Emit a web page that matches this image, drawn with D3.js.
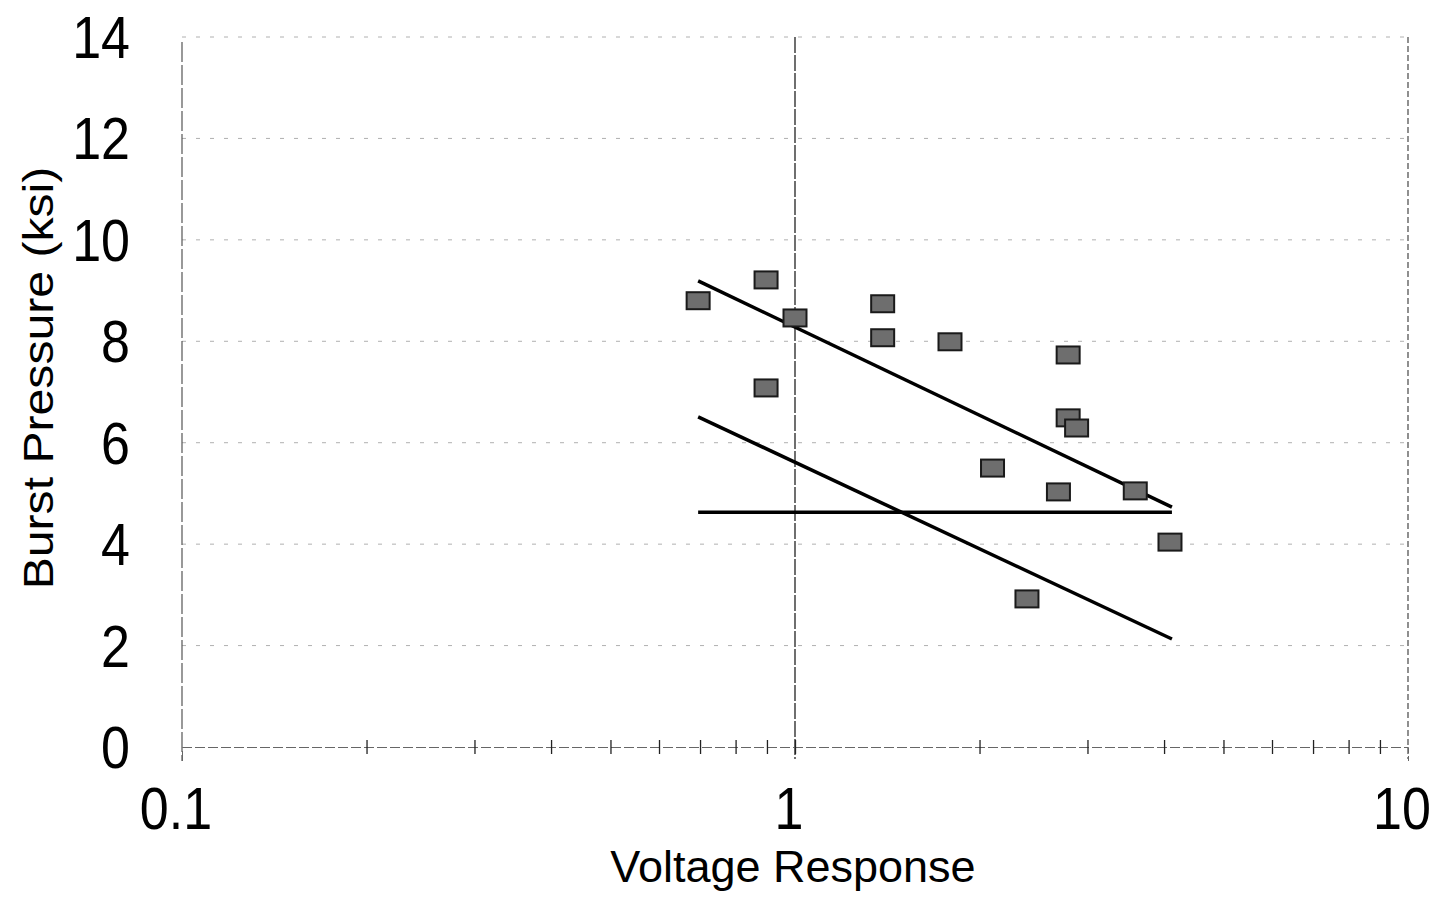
<!DOCTYPE html>
<html>
<head>
<meta charset="utf-8">
<script src="https://cdn.jsdelivr.net/npm/d3@7"></script>
<style>
  body { margin: 0; background: #fff; }
  text { font-family: "Liberation Sans", Arial, sans-serif; fill: #000; }
</style>
</head>
<body>
<svg id="my_svg"></svg>
<script>
const width = 1445;
const height = 902;

// measured points (voltage response vs burst pressure)
const voltage = [0.695, 0.897, 1.0, 0.897, 1.39, 1.39, 1.79, 2.10, 2.79, 2.79, 2.88, 2.69, 3.59, 4.09, 2.39];
const pressure = [8.80, 9.21, 8.46, 7.08, 8.74, 8.07, 7.99, 5.50, 7.73, 6.49, 6.29, 5.03, 5.05, 4.04, 2.92];

// fitted line and bounds: [x0, x1], [y0, y1]
const lineX = [0.695, 4.12];
const upperY = [9.19, 4.73];
const lowerY = [6.51, 2.13];
const flatY = [4.63, 4.63];

const yTicks = [0, 2, 4, 6, 8, 10, 12, 14];
const xMajor = [0.1, 1, 10];
const xMajorLabels = ['0.1', '1', '10'];
const xMinor = [0.2, 0.3, 0.4, 0.5, 0.6, 0.7, 0.8, 0.9, 1, 2, 3, 4, 5, 6, 7, 8, 9];

const svg = d3.select('#my_svg')
    .attr('width', width)
    .attr('height', height);

const x = d3.scaleLog().domain([0.1, 10]).range([182, 1408]);
const y = d3.scaleLinear().domain([0, 14]).range([747, 37]);

// horizontal grid
svg.append('g')
    .selectAll('line')
    .data(yTicks.slice(1))
    .enter().append('line')
    .attr('x1', x(0.1))
    .attr('x2', x(10))
    .attr('y1', d => y(d))
    .attr('y2', d => y(d))
    .attr('stroke', '#b0b0b0')
    .attr('stroke-width', 1)
    .attr('stroke-dasharray', '4,10');

// vertical grid at decades
svg.append('g')
    .selectAll('line')
    .data([1, 10])
    .enter().append('line')
    .attr('x1', d => x(d))
    .attr('x2', d => x(d))
    .attr('y1', y(14))
    .attr('y2', y(0) + 12)
    .attr('stroke', d => d === 1 ? '#222' : '#555')
    .attr('stroke-width', 1.3)
    .attr('stroke-dasharray', d => d === 1 ? '16,2' : '6,3');

// y axis line
svg.append('line')
    .attr('x1', x(0.1)).attr('x2', x(0.1))
    .attr('y1', y(14) + 5).attr('y2', y(0) + 14)
    .attr('stroke', '#555')
    .attr('stroke-width', 1.2)
    .attr('stroke-dasharray', '20,3');

// x axis with cross ticks
const xAxis = d3.axisBottom(x)
    .tickValues(xMinor)
    .tickSize(14)
    .tickFormat('');
const xg = svg.append('g')
    .attr('transform', `translate(0, ${y(0)})`)
    .call(xAxis);
xg.select('.domain')
    .attr('stroke', '#666')
    .attr('stroke-dasharray', '10,3');
xg.selectAll('.tick line')
    .attr('y1', -7)
    .attr('y2', 7)
    .attr('stroke', '#222')
    .attr('stroke-width', 1.3);

// y tick labels
svg.append('g')
    .selectAll('text')
    .data(yTicks)
    .enter().append('text')
    .attr('transform', d => `translate(130, ${y(d) + 21}) scale(1, 1.13)`)
    .attr('text-anchor', 'end')
    .attr('font-size', 52)
    .text(d => d);

// x tick labels
svg.append('g')
    .selectAll('text')
    .data(xMajor)
    .enter().append('text')
    .attr('transform', d => `translate(${x(d) - 6}, 829) scale(1, 1.13)`)
    .attr('text-anchor', 'middle')
    .attr('font-size', 52)
    .text((d, i) => xMajorLabels[i]);

// axis titles
svg.append('text')
    .attr('transform', 'translate(793, 882)')
    .attr('text-anchor', 'middle')
    .attr('font-size', 45)
    .text('Voltage Response');

svg.append('text')
    .attr('transform', 'translate(53, 378) rotate(-90) scale(1.12, 1)')
    .attr('text-anchor', 'middle')
    .attr('font-size', 43)
    .text('Burst Pressure (ksi)');

// lines
const lineSets = [upperY, lowerY, flatY];
svg.append('g')
    .selectAll('line')
    .data(lineSets)
    .enter().append('line')
    .attr('x1', x(lineX[0]))
    .attr('x2', x(lineX[1]))
    .attr('y1', d => y(d[0]))
    .attr('y2', d => y(d[1]))
    .attr('stroke', '#000')
    .attr('stroke-width', 3.5);

// points
const points = voltage.map((v, i) => ({v: v, p: pressure[i]}));
svg.append('g')
    .selectAll('rect')
    .data(points)
    .enter().append('rect')
    .attr('x', d => x(d.v) - 11.5)
    .attr('y', d => y(d.p) - 8.5)
    .attr('width', 23)
    .attr('height', 17)
    .attr('fill', '#6e6e6e')
    .attr('stroke', '#1a1a1a')
    .attr('stroke-width', 2);
</script>
</body>
</html>
